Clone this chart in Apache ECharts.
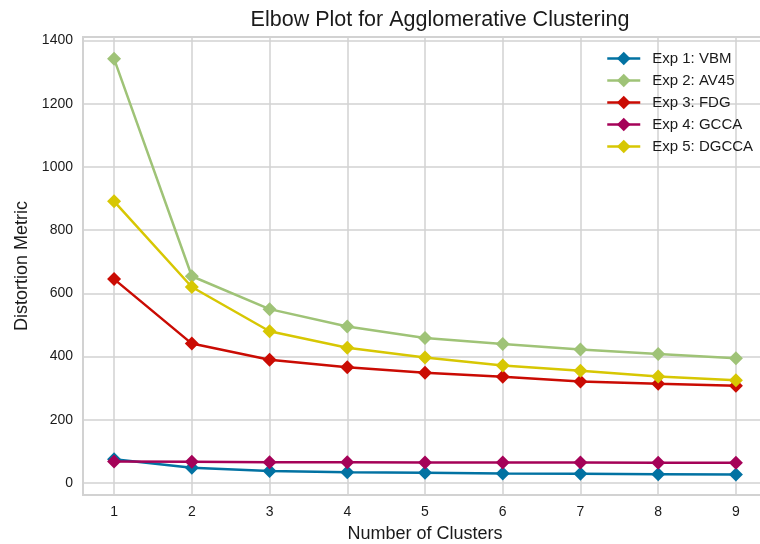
<!DOCTYPE html>
<html>
<head>
<meta charset="utf-8">
<script src="https://cdn.jsdelivr.net/npm/echarts@6/dist/echarts.min.js"></script>
<style>
  html, body { margin: 0; padding: 0; background: #ffffff; }
  #chart { width: 760px; height: 544px; }
</style>
</head>
<body>
<div id="chart"></div>
<script>
// Number of clusters tried
const clusters = [1, 2, 3, 4, 5, 6, 7, 8, 9];

// Distortion metric per experiment
const expVBM   = [75, 48, 38, 34, 32, 30, 29, 28, 27];
const expAV45  = [1342, 654, 550, 495, 459, 440, 422, 408, 395];
const expFDG   = [645, 441, 390, 366, 349, 336, 321, 314, 308];
const expGCCA  = [68, 67, 66, 66, 65, 65, 65, 64, 64];
const expDGCCA = [891, 620, 480, 428, 397, 372, 355, 337, 325];

const seriesNames = ['Exp 1: VBM', 'Exp 2: AV45', 'Exp 3: FDG', 'Exp 4: GCCA', 'Exp 5: DGCCA'];
const seriesColors = ['#0272a2', '#9fc377', '#ca0b03', '#a50258', '#d7c703'];

// Axis tick values
const xTicks = [1, 2, 3, 4, 5, 6, 7, 8, 9];
const yTicks = [0, 200, 400, 600, 800, 1000, 1200, 1400];

const FONT = '"Liberation Sans", Arial, sans-serif';
const TEXT = '#1a1a1a';
const GRIDC = '#d2d2d2';

const allValues = [expVBM, expAV45, expFDG, expGCCA, expDGCCA];

const chart = echarts.init(document.getElementById('chart'), null, { renderer: 'canvas' });

const series = allValues.map((vals, i) => ({
  name: seriesNames[i],
  type: 'line',
  data: clusters.map((c, j) => [c, vals[j]]),
  symbol: 'diamond',
  symbolSize: 14,
  color: seriesColors[i],
  lineStyle: { width: 2.5, color: seriesColors[i] },
  itemStyle: { color: seriesColors[i] },
  z: 3 + i,
  animation: false
}));

chart.setOption({
  animation: false,
  backgroundColor: '#ffffff',
  title: {
    text: 'Elbow Plot for Agglomerative Clustering',
    left: 440,
    textAlign: 'center',
    top: 9,
    padding: 0,
    textStyle: { fontFamily: FONT, fontSize: 21.5, fontWeight: 'normal', color: TEXT }
  },
  legend: {
    data: seriesNames,
    orient: 'vertical',
    left: 606,
    top: 50,
    padding: 0,
    itemWidth: 33,
    itemHeight: 17,
    itemGap: 5,
    lineStyle: { width: 2.5 },
    textStyle: { fontFamily: FONT, fontSize: 15, color: TEXT, lineHeight: 17, padding: [0, 0, 0, 7] }
  },
  grid: {
    left: 83,
    width: 684,
    top: 37,
    bottom: 49,
    outerBoundsMode: 'none',
    containLabel: false,
    show: true,
    borderColor: GRIDC,
    borderWidth: 2,
    backgroundColor: '#ffffff'
  },
  xAxis: {
    type: 'value',
    min: 0.6,
    max: 9.4,
    name: 'Number of Clusters',
    nameLocation: 'middle',
    nameGap: 30,
    nameTextStyle: { fontFamily: FONT, fontSize: 18, color: TEXT },
    axisLine: { show: false },
    axisTick: { show: false, customValues: xTicks },
    axisLabel: { customValues: xTicks, fontFamily: FONT, fontSize: 14, color: TEXT, margin: 10 },
    splitLine: { show: true, lineStyle: { color: GRIDC, width: 1.5 } }
  },
  yAxis: {
    type: 'value',
    min: -38,
    max: 1411,
    name: 'Distortion Metric',
    nameLocation: 'middle',
    nameGap: 46,
    nameTextStyle: { fontFamily: FONT, fontSize: 18, color: TEXT },
    axisLine: { show: false },
    axisTick: { show: false, customValues: yTicks },
    axisLabel: {
      customValues: yTicks,
      formatter: (v) => String(Math.round(v)),
      fontFamily: FONT, fontSize: 14, color: TEXT, margin: 10
    },
    splitLine: { show: true, lineStyle: { color: GRIDC, width: 1.5 } }
  },
  series: series
});
</script>
</body>
</html>
